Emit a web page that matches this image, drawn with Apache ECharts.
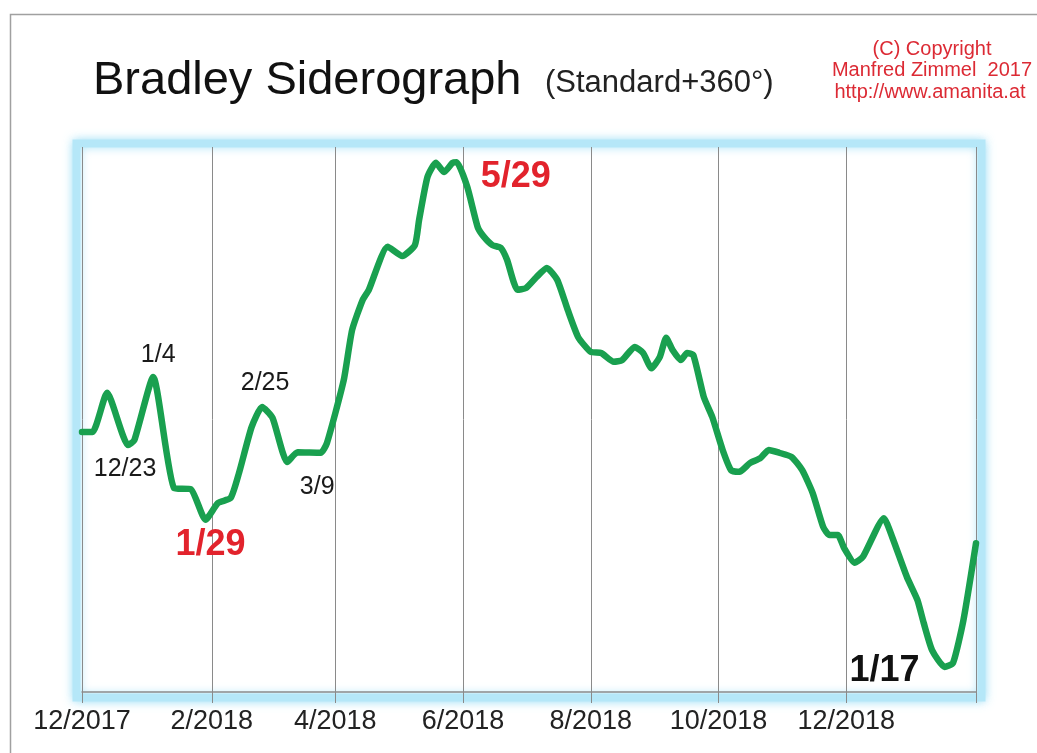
<!DOCTYPE html>
<html>
<head>
<meta charset="utf-8">
<script src="https://cdn.jsdelivr.net/npm/echarts@6/dist/echarts.min.js"></script>
<style>
html,body{margin:0;padding:0;background:#fff;}
#chart{width:1037px;height:753px;}
</style>
</head>
<body>
<div id="chart"></div>
<script>
// ---- data ----
const dates = [
  '2017-12-01','2017-12-06','2017-12-13','2017-12-23','2017-12-26','2018-01-04','2018-01-14','2018-01-22',
  '2018-01-29','2018-02-04','2018-02-10','2018-02-14','2018-02-20','2018-02-25','2018-03-02','2018-03-09',
  '2018-03-14','2018-03-25','2018-03-28','2018-04-05','2018-04-09','2018-04-14','2018-04-17','2018-04-26',
  '2018-05-03','2018-05-09','2018-05-11','2018-05-15','2018-05-19','2018-05-23','2018-05-27','2018-05-29',
  '2018-06-03','2018-06-08','2018-06-11','2018-06-15','2018-06-19','2018-06-22','2018-06-27','2018-07-01',
  '2018-07-06','2018-07-11','2018-07-16','2018-07-21','2018-07-26','2018-08-01','2018-08-06','2018-08-12',
  '2018-08-16','2018-08-22','2018-08-26','2018-08-30','2018-09-03','2018-09-06','2018-09-09','2018-09-13',
  '2018-09-16','2018-09-19','2018-09-24','2018-09-28','2018-10-03','2018-10-07','2018-10-11','2018-10-16',
  '2018-10-21','2018-10-25','2018-10-30','2018-11-05','2018-11-10','2018-11-15','2018-11-20','2018-11-23',
  '2018-11-27','2018-11-30','2018-12-05','2018-12-09','2018-12-19','2018-12-23','2018-12-30','2019-01-04',
  '2019-01-07','2019-01-11','2019-01-17','2019-01-21','2019-01-26','2019-02-01'
];
const values = [
  47.7,47.7,54.9,45.3,46.2,57.8,37.4,37.2,
  31.6,34.7,35.6,40.2,48.6,52.3,50.3,42.2,
  44.0,43.9,45.7,57.2,66.4,71.9,73.8,81.7,
  80.0,82.0,86.6,94.5,97.1,95.4,97.1,97.2,
  92.7,85.3,83.5,82.0,81.5,79.3,73.8,74.1,
  76.1,77.8,75.6,70.1,65.1,62.4,62.2,60.6,
  60.9,63.3,62.2,59.4,61.5,65.0,62.8,60.9,
  62.2,61.8,54.1,50.5,44.4,40.7,40.4,42.0,
  42.9,44.4,43.9,43.1,40.7,36.5,30.3,28.8,
  28.8,26.4,23.7,24.8,31.9,28.4,21.1,16.9,
  12.7,7.7,4.6,5.3,13.2,27.3
];
const tickDates = ['2017-12-01','2018-02-01','2018-04-01','2018-06-01','2018-08-01','2018-10-01','2018-12-01','2019-02-01'];
const tickLabels = ['12/2017','2/2018','4/2018','6/2018','8/2018','10/2018','12/2018',''];
const noteDates = ['2017-12-23','2018-01-04','2018-01-29','2018-02-25','2018-03-09','2018-05-29','2019-01-17'];
const noteTexts = ['12/23','1/4','1/29','2/25','3/9','5/29','1/17'];
const titleText = 'Bradley Siderograph';
const subtitleText = '(Standard+360°)';
const copyrightLines = ['(C) Copyright', 'Manfred Zimmel  2017', 'http://www.amanita.at'];

// ---- helpers ----
function ts(s){ const p = s.split('-'); return Date.UTC(+p[0], +p[1]-1, +p[2]); }
const tickTs = tickDates.map(ts);
const seriesData = dates.map((d,i)=>[ts(d), values[i]]);
function valueAt(d){ return values[dates.indexOf(d)]; }

const FONT = '"Liberation Sans", Arial, sans-serif';
const small = {fontSize:25, color:'#1a1a1a', fontFamily:FONT};
const bigRed = {fontSize:36, fontWeight:'bold', color:'#e2232c', fontFamily:FONT};
const bigBlack = {fontSize:36, fontWeight:'bold', color:'#111', fontFamily:FONT};
const noteStyles = [
  Object.assign({offset:[-3,24]}, small),
  Object.assign({offset:[5,-22]}, small),
  Object.assign({offset:[5,25]}, bigRed),
  Object.assign({offset:[3,-24]}, small),
  Object.assign({offset:[30,25]}, small),
  Object.assign({offset:[59,15]}, bigRed),
  Object.assign({offset:[-60,4]}, bigBlack)
];

const chart = echarts.init(document.getElementById('chart'), null, {renderer:'canvas'});
const option = {
  backgroundColor:'#fff',
  animation:false,
  grid:{left:82, right:61, top:147, bottom:61, containLabel:false},
  graphic:[
    {type:'rect', z:-20, shape:{x:10.5, y:14.5, width:1100, height:800},
     style:{fill:'#fff', stroke:'#a0a0a0', lineWidth:1.5}},
    {type:'rect', z:-10, shape:{x:76.5, y:143.5, width:905, height:554},
     style:{fill:'#fff', stroke:'#b5e7f8', lineWidth:8, shadowBlur:10, shadowColor:'rgba(150,220,245,0.8)'}},
    {type:'text', x:93, y:81, style:{text:titleText, font:'47px '+FONT, fill:'#111', verticalAlign:'middle', align:'left'}},
    {type:'text', x:545, y:83, style:{text:subtitleText, font:'31px '+FONT, fill:'#222', verticalAlign:'middle', align:'left'}},
    {type:'text', x:932, y:49, style:{text:copyrightLines[0], font:'20px '+FONT, fill:'#dc2a34', verticalAlign:'middle', align:'center'}},
    {type:'text', x:932, y:70.5, style:{text:copyrightLines[1], font:'20px '+FONT, fill:'#dc2a34', verticalAlign:'middle', align:'center'}},
    {type:'text', x:930, y:92, style:{text:copyrightLines[2], font:'20px '+FONT, fill:'#dc2a34', verticalAlign:'middle', align:'center'}}
  ],
  xAxis:{
    type:'value',
    min:tickTs[0], max:tickTs[tickTs.length-1],
    axisLine:{show:true, lineStyle:{color:'#8a8a8a', width:1.5}},
    axisTick:{show:true, customValues:tickTs, length:11, lineStyle:{color:'#8a8a8a', width:1}},
    axisLabel:{show:true, customValues:tickTs.slice(0, tickTs.length-1), margin:16,
      fontSize:27, color:'#222', fontFamily:FONT,
      formatter:function(v){ const i = tickTs.indexOf(+v); return i>=0 ? tickLabels[i] : ''; }},
    splitLine:{show:true, lineStyle:{color:'#8a8a8a', width:1}}
  },
  yAxis:{type:'value', min:0, max:100, show:false, splitLine:{show:false}},
  series:[{
    type:'line',
    data:seriesData,
    smooth:0.18,
    showSymbol:false,
    symbol:'none',
    lineStyle:{color:'#19a04f', width:6.5, cap:'round', join:'round'},
    z:5,
    markPoint:{
      symbol:'circle', symbolSize:1,
      itemStyle:{color:'rgba(0,0,0,0)'},
      data: noteDates.map((d,i)=>({
        coord:[ts(d), valueAt(d)],
        label:Object.assign({show:true, position:'inside', formatter:noteTexts[i]}, noteStyles[i])
      }))
    }
  }]
};
chart.setOption(option);
</script>
</body>
</html>
